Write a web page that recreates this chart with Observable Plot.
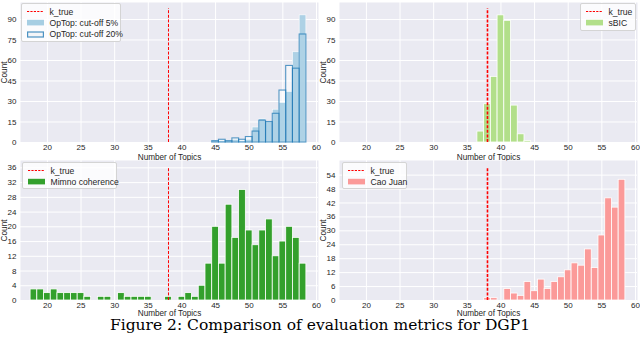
<!DOCTYPE html>
<html><head><meta charset="utf-8">
<script src="https://cdn.jsdelivr.net/npm/d3@7"></script>
<script src="https://cdn.jsdelivr.net/npm/@observablehq/plot@0.6"></script>
<style>
body{margin:0;background:#fff;}
#root{position:relative;width:640px;height:337px;overflow:hidden;background:#fff;}
.panel{position:absolute;}
.legend{position:absolute;background:rgba(255,255,255,0.8);border:1px solid #d4d4d4;border-radius:2px;font-family:"Liberation Sans",Arial,sans-serif;font-size:8.6px;color:#262626;box-sizing:border-box;padding-top:2px;}
.row{display:flex;align-items:center;height:11.3px;white-space:nowrap;}
.row svg{margin-left:5px;margin-right:5.5px;flex:none;}
#caption{position:absolute;left:0;width:640px;top:318.5px;text-align:center;font-family:"DejaVu Serif",serif;font-size:15.5px;line-height:12px;color:#000;}
</style>
</head><body><div id="root"></div>
<script>
// ---- data ----
const kTrue = 38;
const xTicks = [20, 25, 30, 35, 40, 45, 50, 55, 60];

const optopBins = [45, 46, 47, 48, 49, 50, 51, 52, 53, 54, 55, 56, 57, 58];
const optop5 =    [1, 1, 1, 2, 1, 2, 11, 17, 15, 24, 29, 37, 66, 93];
const optop20 =   [1, 2, 1, 3, 2, 4, 8, 16, 15, 21, 38, 56, 54, 79];

const sbicBins =   [37, 38, 39, 40, 41, 42, 43, 44];
const sbicCounts = [8, 28, 48, 93, 89, 27, 6, 1];

const mimnoBins =   [18, 19, 20, 21, 22, 23, 24, 25, 26, 27, 28, 29, 30, 31, 32, 33, 34, 35, 36, 37, 38, 39, 40, 41, 42, 43, 44, 45, 46, 47, 48, 49, 50, 51, 52, 53, 54, 55, 56, 57, 58];
const mimnoCounts = [3, 3, 2, 3, 2, 2, 2, 2, 1, 0, 1, 1, 0, 2, 1, 1, 1, 1, 0, 0, 1, 0, 1, 2, 1, 4, 10, 20, 10, 26, 17, 30, 19, 15, 19, 22, 12, 16, 20, 17, 10];

const caoBins =   [38, 39, 40, 41, 42, 43, 44, 45, 46, 47, 48, 49, 50, 51, 52, 53, 54, 55, 56, 57, 58];
const caoCounts = [1, 1, 0, 5, 3, 2, 8, 4, 9, 5, 8, 10, 13, 16, 15, 22, 14, 28, 44, 40, 52];

const yTicksTop = [0, 15, 30, 45, 60, 75, 90];
const yTicksMimno = [0, 4, 8, 12, 16, 20, 24, 28, 32, 36];
const yTicksCao = [0, 6, 12, 18, 24, 30, 36, 42, 48, 54];

const kTopValues = [98, 98, 36, 57];
const yMax = [102.4, 102.4, 38, 60.3];

const legendLabels = [
  ["k_true", "OpTop: cut-off 5%", "OpTop: cut-off 20%"],
  ["k_true", "sBIC"],
  ["k_true", "Mimno coherence"],
  ["k_true", "Cao Juan"]
];

// ---- helpers ----
const bars = (bins, counts) => bins.map((b, i) => ({x1: b - 0.5, x2: b + 0.5, y: counts[i]})).filter(d => d.y > 0);

const C = {
  op5: "#a6cee3", op20: "#1f78b4", sbic: "#b2df8a", mimno: "#33a02c", cao: "#fb9a99", k: "#ff0000", bg: "#eaeaf2"
};

function panel({yTicks, ymax, kTop, barMarks, left, top, ruleWidth, xLabelOffset}) {
  const p = Plot.plot({
    width: 320, height: 158,
    marginLeft: 20, marginRight: 2, marginTop: 2, marginBottom: 16,
    x: {domain: [16, 60.3]},
    y: {domain: [0, ymax]},
    style: {fontFamily: "Liberation Sans, Arial, sans-serif", fontSize: "8px", color: "#262626", background: "transparent", overflow: "visible"},
    marks: [
      Plot.frame({fill: C.bg, stroke: null}),
      Plot.gridX(xTicks, {stroke: "white", strokeOpacity: 1, strokeWidth: 1}),
      Plot.gridY(yTicks, {stroke: "white", strokeOpacity: 1, strokeWidth: 1}),
      Plot.axisX(xTicks, {tickSize: 0, tickPadding: 1.5, label: null}),
      Plot.axisX({tickSize: 0, ticks: [], label: "Number of Topics", labelAnchor: "center", labelArrow: "none", labelOffset: xLabelOffset, fontSize: 8.2}),
      Plot.axisY(yTicks, {tickSize: 0, tickPadding: 4, label: null}),
      Plot.axisY({tickSize: 0, ticks: [], label: "Count", labelAnchor: "center", labelArrow: "none", labelOffset: 19.5, fontSize: 8.3}),
      ...barMarks,
      Plot.ruleX([{x: kTrue, top: kTop}], {x: "x", y1: 0, y2: "top", stroke: C.k, strokeWidth: ruleWidth, strokeDasharray: "3,1.6"})
    ]
  });
  p.classList.add("panel");
  p.style.left = left + "px";
  p.style.top = top + "px";
  return p;
}

const root = document.getElementById("root");

root.appendChild(panel({
  yTicks: yTicksTop, ymax: yMax[0], kTop: kTopValues[0], left: 0, top: 0, ruleWidth: 1, xLabelOffset: 17.3,
  barMarks: [
    Plot.rectY(bars(optopBins, optop20), {x1: "x1", x2: "x2", y: "y", fill: "white", fillOpacity: 0.55}),
    Plot.rectY(bars(optopBins, optop5), {x1: "x1", x2: "x2", y: "y", fill: C.op5, fillOpacity: 0.9, stroke: "white", strokeWidth: 0.6}),
    Plot.rectY(bars(optopBins, optop20), {x1: "x1", x2: "x2", y: "y", fill: "none", stroke: C.op20, strokeOpacity: 0.75, strokeWidth: 1.1})
  ]
}));
root.appendChild(panel({
  yTicks: yTicksTop, ymax: yMax[1], kTop: kTopValues[1], left: 319, top: 0, ruleWidth: 1.6, xLabelOffset: 17.3,
  barMarks: [Plot.rectY(bars(sbicBins, sbicCounts), {x1: "x1", x2: "x2", y: "y", fill: C.sbic, stroke: "white", strokeWidth: 0.8})]
}));
root.appendChild(panel({
  yTicks: yTicksMimno, ymax: yMax[2], kTop: kTopValues[2], left: 0, top: 158, ruleWidth: 1, xLabelOffset: 15.8,
  barMarks: [Plot.rectY(bars(mimnoBins, mimnoCounts), {x1: "x1", x2: "x2", y: "y", fill: C.mimno, stroke: "white", strokeWidth: 0.8})]
}));
root.appendChild(panel({
  yTicks: yTicksCao, ymax: yMax[3], kTop: kTopValues[3], left: 319, top: 158, ruleWidth: 1.6, xLabelOffset: 15.8,
  barMarks: [Plot.rectY(bars(caoBins, caoCounts), {x1: "x1", x2: "x2", y: "y", fill: C.cao, stroke: "white", strokeWidth: 0.8})]
}));

// ---- legends ----
function handle(kind) {
  const ns = "http://www.w3.org/2000/svg";
  const s = document.createElementNS(ns, "svg");
  s.setAttribute("width", 17); s.setAttribute("height", 7);
  if (kind.type === "line") {
    s.innerHTML = `<line x1="0" x2="17" y1="3.5" y2="3.5" stroke="${C.k}" stroke-width="1" stroke-dasharray="2.2,1.2"/>`;
  } else if (kind.type === "fill") {
    s.innerHTML = `<rect x="0" y="0.8" width="17" height="5.6" fill="${kind.color}"/>`;
  } else {
    s.innerHTML = `<rect x="0.6" y="1" width="15.8" height="5" fill="#f4f5f8" stroke="${C.op20}" stroke-opacity="0.8" stroke-width="1.2"/>`;
  }
  return s;
}
function legend(labels, kinds, box) {
  const d = document.createElement("div");
  d.className = "legend";
  Object.assign(d.style, {left: box[0] + "px", top: box[1] + "px", width: box[2] + "px", height: box[3] + "px"});
  labels.forEach((t, i) => {
    const r = document.createElement("div");
    r.className = "row";
    r.appendChild(handle(kinds[i]));
    const sp = document.createElement("span");
    sp.textContent = t;
    r.appendChild(sp);
    d.appendChild(r);
  });
  root.appendChild(d);
}
legend(legendLabels[0], [{type: "line"}, {type: "fill", color: C.op5}, {type: "outline"}], [21, 3, 100, 39]);
legend(legendLabels[1], [{type: "line"}, {type: "fill", color: C.sbic}], [580, 3, 56, 28]);
legend(legendLabels[2], [{type: "line"}, {type: "fill", color: C.mimno}], [22, 162, 95, 27]);
legend(legendLabels[3], [{type: "line"}, {type: "fill", color: C.cao}], [342, 162, 65, 27]);

const cap = document.createElement("div");
cap.id = "caption";
cap.textContent = "Figure 2: Comparison of evaluation metrics for DGP1";
root.appendChild(cap);
</script>
</body></html>
